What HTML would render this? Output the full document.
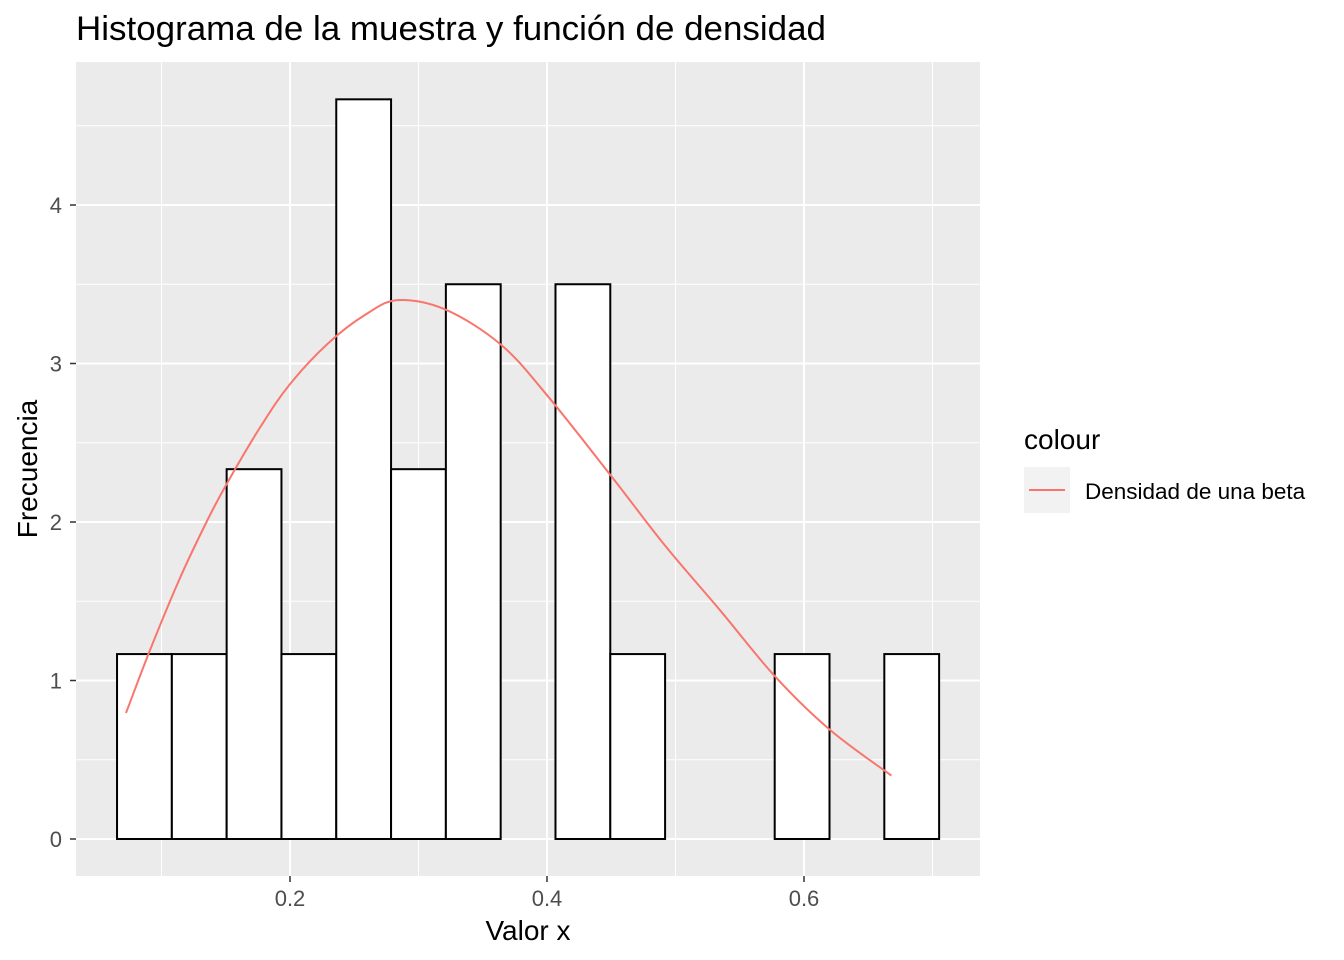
<!DOCTYPE html>
<html><head><meta charset="utf-8"><style>
body{margin:0;background:#fff;}
svg{display:block;font-family:"Liberation Sans",Arial,sans-serif;}
</style></head><body>
<svg id="chart" width="1344" height="960" viewBox="0 0 1344 960">
<text x="76" y="40" font-size="34" fill="#000" textLength="750" lengthAdjust="spacingAndGlyphs">Histograma de la muestra y función de densidad</text>
<rect x="76" y="62" width="904" height="814" fill="#ebebeb"/>
<g id="grid"></g>
<g id="bars"></g>
<g id="curve"></g>
<g id="axes"></g>
<text x="528" y="940" font-size="28" text-anchor="middle" fill="#000">Valor x</text>
<text transform="translate(37,469) rotate(-90)" font-size="28" text-anchor="middle" fill="#000">Frecuencia</text>
<g>
<text x="1024" y="449" font-size="28" fill="#000">colour</text>
<rect x="1024" y="467" width="46" height="46" fill="#f2f2f2"/>
<line x1="1029" y1="490" x2="1065" y2="490" stroke="#f8766d" stroke-width="2"/>
<text x="1085" y="499" font-size="22.5" fill="#000">Densidad de una beta</text>
</g>
</svg>
<script>
const binStart = 0.0654;
const binWidth = 0.04265;
const barHeights = [1.1667,1.1667,2.3333,1.1667,4.6667,2.3333,3.5,0,3.5,1.1667,0,0,1.1667,0,1.1667];
const curveX = [0.0724,0.091,0.114,0.135,0.150,0.177,0.200,0.230,0.259,0.284,0.321,0.364,0.400,0.449,0.492,0.535,0.577,0.620,0.668];
const curveY = [0.795,1.19,1.64,2.00,2.23,2.60,2.87,3.13,3.31,3.40,3.34,3.12,2.80,2.30,1.85,1.44,1.03,0.69,0.40];
const xTicks = [0.2,0.4,0.6];
const xTickLabels = ["0.2","0.4","0.6"];
const yTicks = [0,1,2,3,4];
const yTickLabels = ["0","1","2","3","4"];

const NS="http://www.w3.org/2000/svg";
const xs = v => 33 + v*1285;
const ys = v => 839 - v*158.5;
function mk(tag, attrs, parent){const e=document.createElementNS(NS,tag);for(const k in attrs)e.setAttribute(k,attrs[k]);parent.appendChild(e);return e;}
const grid=document.getElementById('grid'), bars=document.getElementById('bars'), curve=document.getElementById('curve'), axes=document.getElementById('axes');

[0.1,0.3,0.5,0.7].forEach(v=>{const l=mk('line',{x1:xs(v),x2:xs(v),y1:62,y2:876,stroke:'#fff','stroke-width':1},grid);

});
[0.5,1.5,2.5,3.5,4.5].forEach(v=>{const l=mk('line',{x1:76,x2:980,y1:ys(v),y2:ys(v),stroke:'#fff','stroke-width':1},grid);

});
xTicks.forEach((v,i)=>{const l=mk('line',{x1:xs(v),x2:xs(v),y1:62,y2:876,stroke:'#fff','stroke-width':2},grid);


const t=mk('line',{x1:xs(v),x2:xs(v),y1:876,y2:882,stroke:'#333','stroke-width':1.5},axes);


const tx=mk('text',{x:xs(v),y:906,'font-size':22,'text-anchor':'middle',fill:'#4d4d4d'},axes);tx.textContent=xTickLabels[i];

});
yTicks.forEach((v,i)=>{const l=mk('line',{x1:76,x2:980,y1:ys(v),y2:ys(v),stroke:'#fff','stroke-width':2},grid);


const t=mk('line',{x1:70,x2:76,y1:ys(v),y2:ys(v),stroke:'#333','stroke-width':1.5},axes);


const tx=mk('text',{x:62,y:ys(v)+8,'font-size':22,'text-anchor':'end',fill:'#4d4d4d'},axes);tx.textContent=yTickLabels[i];

});

barHeights.forEach((h,i)=>{const x0=xs(binStart+i*binWidth), x1=xs(binStart+(i+1)*binWidth);
const r=mk('rect',{x:x0,y:ys(h),width:x1-x0,height:ys(0)-ys(h),fill:'#fff',stroke:'#000','stroke-width':2},bars);

});

const P=curveX.map((v,i)=>[xs(v),ys(curveY[i])]);
let d='M'+P[0][0].toFixed(1)+','+P[0][1].toFixed(1);
for(let i=0;i<P.length-1;i++){
  const p0=P[Math.max(0,i-1)],p1=P[i],p2=P[i+1],p3=P[Math.min(P.length-1,i+2)];
  const c1=[p1[0]+(p2[0]-p0[0])/6,p1[1]+(p2[1]-p0[1])/6];
  const c2=[p2[0]-(p3[0]-p1[0])/6,p2[1]-(p3[1]-p1[1])/6];
  d+='C'+c1[0].toFixed(1)+','+c1[1].toFixed(1)+' '+c2[0].toFixed(1)+','+c2[1].toFixed(1)+' '+p2[0].toFixed(1)+','+p2[1].toFixed(1);
}
const p=mk('path',{d:d,fill:'none',stroke:'#f8766d','stroke-width':2,'stroke-linejoin':'round'},curve);


</script>
</body></html>
